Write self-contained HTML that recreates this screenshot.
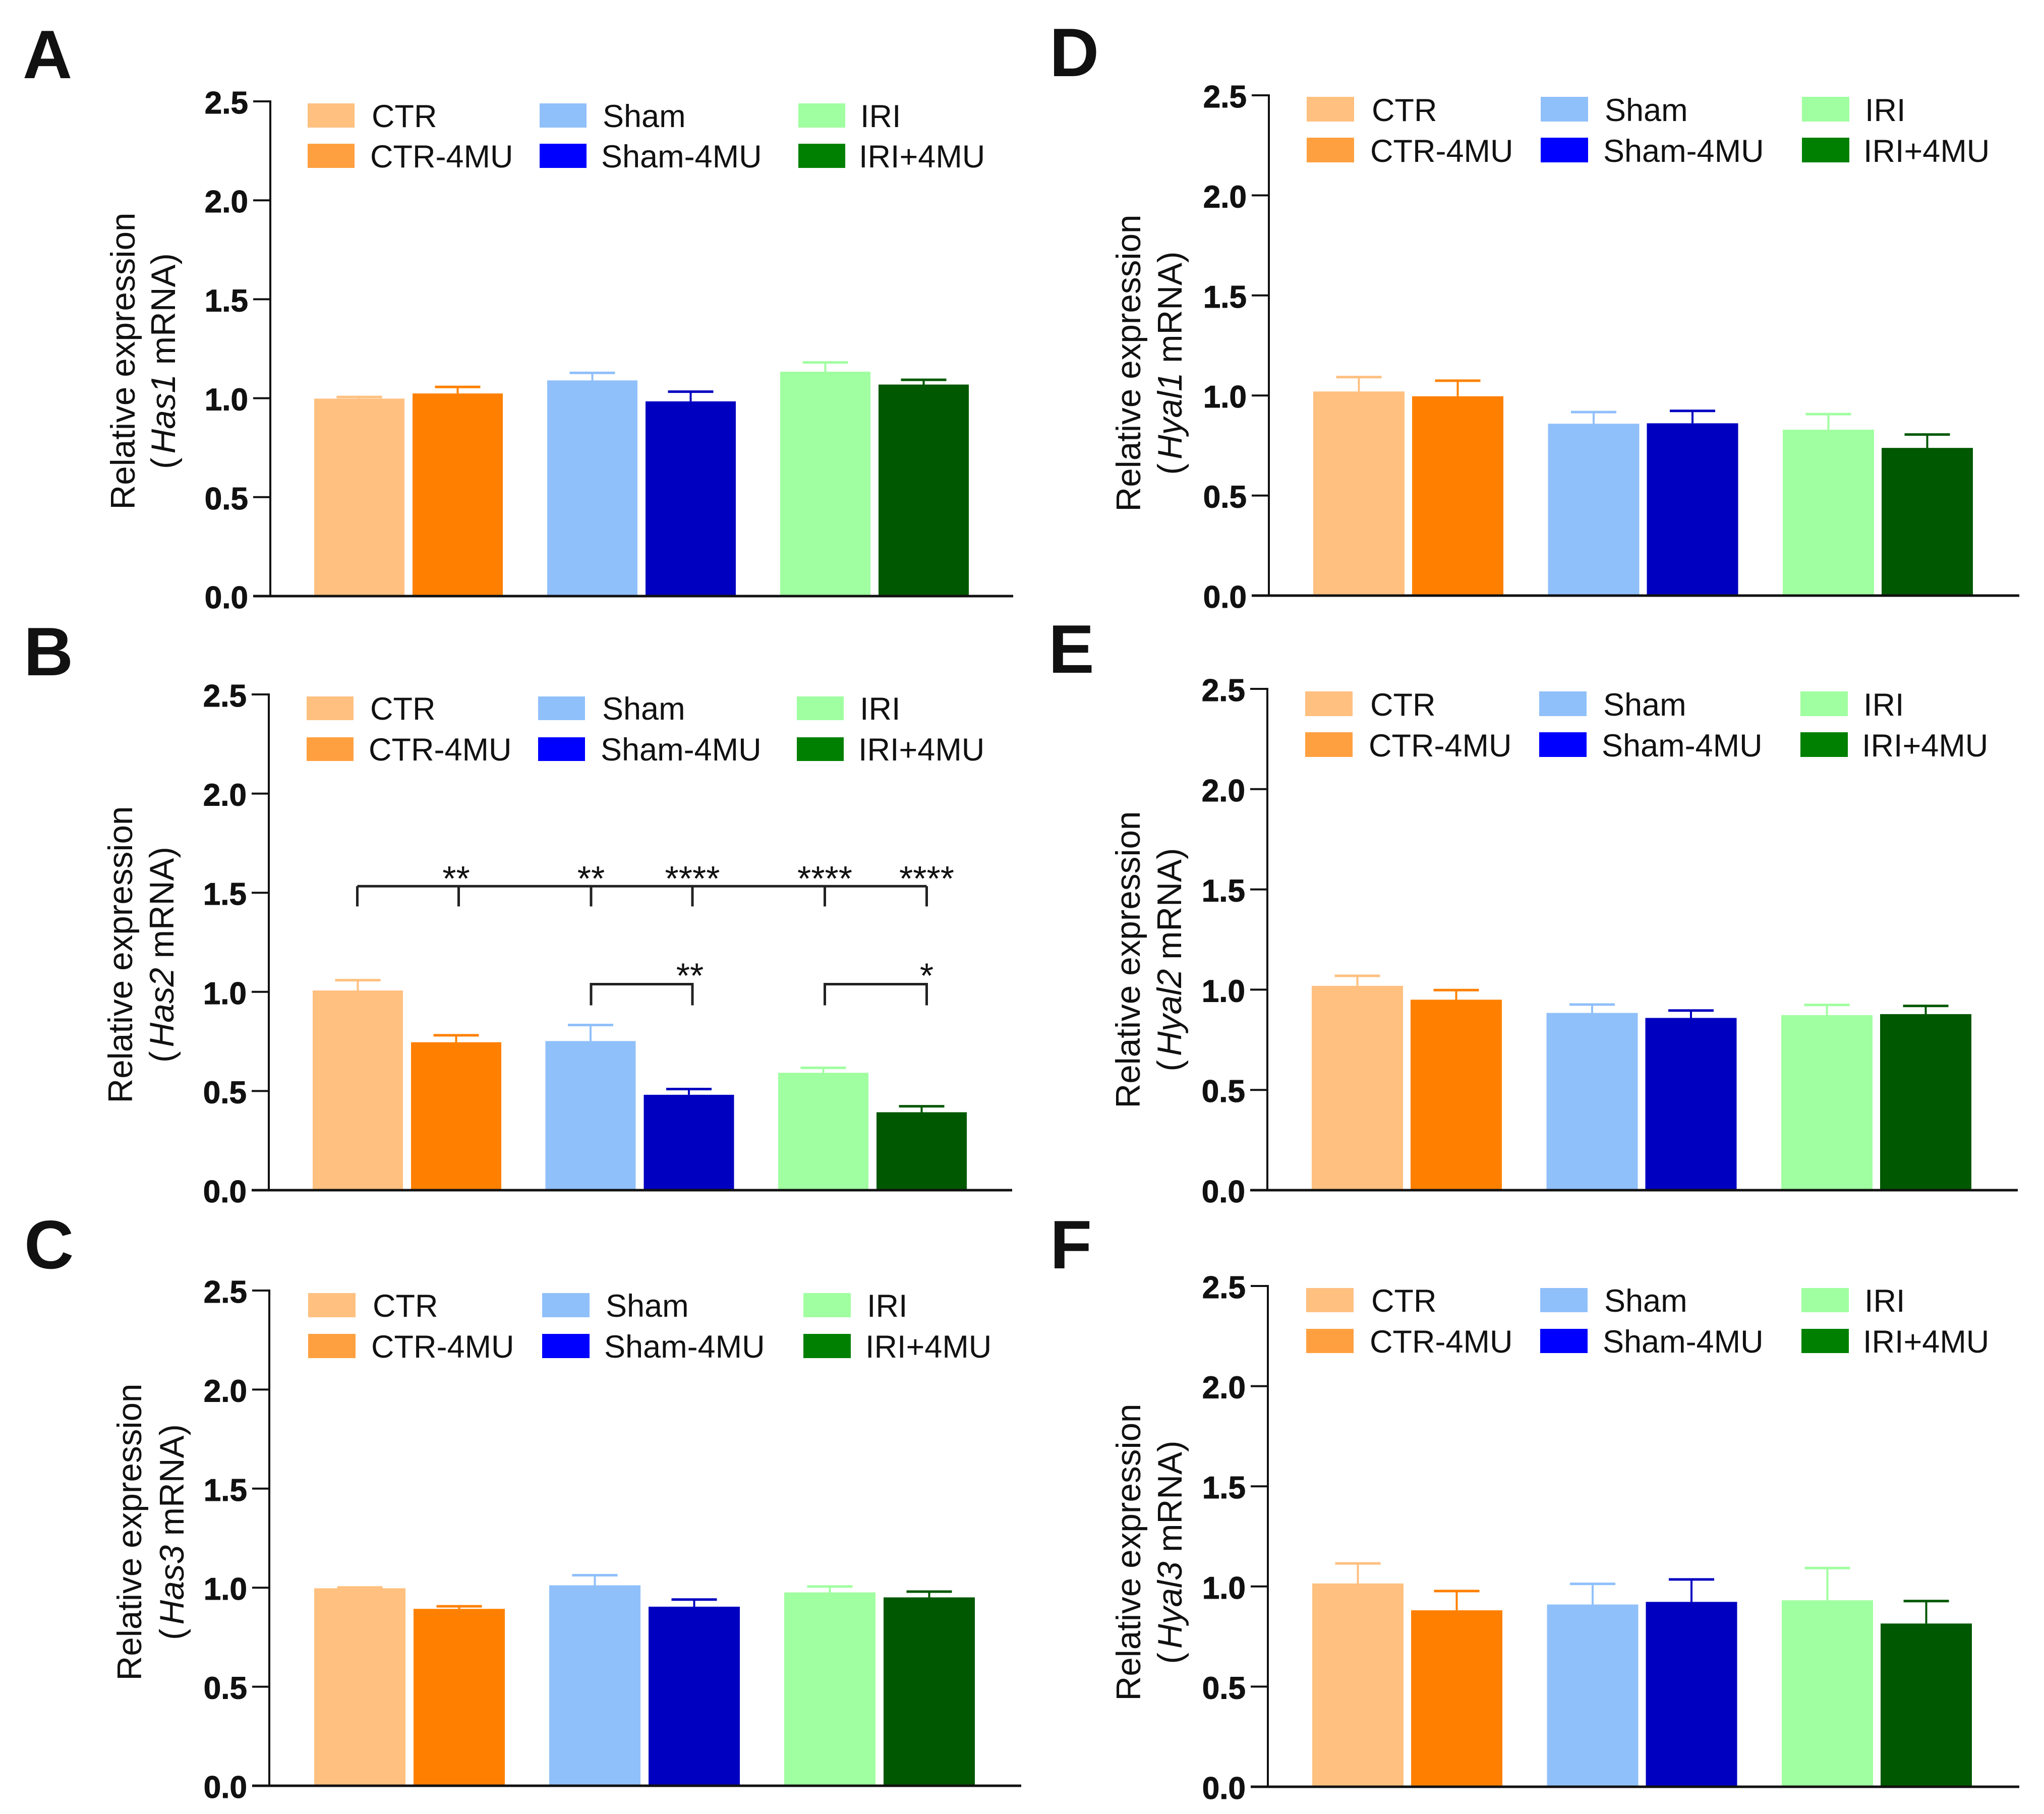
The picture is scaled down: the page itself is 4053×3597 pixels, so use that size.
<!DOCTYPE html>
<html lang="en">
<head>
<meta charset="utf-8">
<title>Relative mRNA expression panels</title>
<style>
html,body{margin:0;padding:0;background:#fff;}
svg{display:block;}
text{font-family:"Liberation Sans",sans-serif;fill:#111;}
</style>
</head>
<body>
<svg id="figure" xmlns="http://www.w3.org/2000/svg" width="4053" height="3597" viewBox="0 0 4053 3597"></svg>
<script>
// ---- chart data ----
const categories = ['CTR', 'CTR-4MU', 'Sham', 'Sham-4MU', 'IRI', 'IRI+4MU'];
const tickValues = [0, 0.5, 1, 1.5, 2, 2.5];
const tickLabels = ['0.0', '0.5', '1.0', '1.5', '2.0', '2.5'];
const has1Means = [0.998, 1.024, 1.09, 0.984, 1.134, 1.069];
const has1Errors = [0.008, 0.033, 0.038, 0.049, 0.047, 0.024];
const has2Means = [1.007, 0.746, 0.752, 0.481, 0.592, 0.393];
const has2Errors = [0.052, 0.035, 0.081, 0.029, 0.025, 0.03];
const has3Means = [0.997, 0.893, 1.012, 0.904, 0.976, 0.951];
const has3Errors = [0.004, 0.013, 0.051, 0.036, 0.03, 0.029];
const hyal1Means = [1.02, 0.996, 0.859, 0.861, 0.829, 0.738];
const hyal1Errors = [0.072, 0.078, 0.058, 0.062, 0.078, 0.067];
const hyal2Means = [1.019, 0.95, 0.884, 0.859, 0.873, 0.878];
const hyal2Errors = [0.05, 0.048, 0.042, 0.037, 0.051, 0.041];
const hyal3Means = [1.015, 0.881, 0.91, 0.923, 0.931, 0.815];
const hyal3Errors = [0.1, 0.096, 0.103, 0.112, 0.161, 0.112];
const topStars = ['**', '**', '****', '****', '****'];
const lowerStars = ['**', '*'];

// ---- styles ----
const barColors = ['#FFC080', '#FF8000', '#90C0FA', '#0000C0', '#A0FFA0', '#005800'];
const swatchColors = ['#FFC080', '#FFA040', '#90C0FA', '#0000FF', '#A0FFA0', '#008000'];

// ---- panel layout ----
const panels = [
  {letter:'A', lx:45, ly:155, gene:'Has1', suffix:' mRNA)', means:has1Means, errors:has1Errors,
   ax:536, top:201, bottom:1182, xEnd:2009, off:87, step:195, group:462, w:179,
   lab1:267, lab2:347, labY:716,
   swX:[610,1070,1583], txX:[737,1195,1706], swY:[205,285], swW:93, swH:48},
  {letter:'B', lx:47, ly:1339, gene:'Has2', suffix:' mRNA)', means:has2Means, errors:has2Errors,
   ax:533, top:1377, bottom:2360, xEnd:2007, off:87, step:195, group:461.5, w:179,
   lab1:262, lab2:344, labY:1893,
   swX:[608,1067,1580], txX:[734,1194,1705], swY:[1381,1462], swW:93, swH:47},
  {letter:'C', lx:48, ly:2515, gene:'Has3', suffix:' mRNA)', means:has3Means, errors:has3Errors,
   ax:534, top:2559, bottom:3541, xEnd:2025, off:89, step:197, group:466, w:181,
   lab1:280, lab2:364, labY:3038,
   swX:[611,1075,1593], txX:[739,1201,1719], swY:[2564,2645], swW:94, swH:48},
  {letter:'D', lx:2081, ly:151, gene:'Hyal1', suffix:' mRNA)', means:hyal1Means, errors:hyal1Errors,
   ax:2516, top:189, bottom:1181, xEnd:4004, off:88, step:196, group:465.5, w:181,
   lab1:2261, lab2:2343, labY:720,
   swX:[2591,3055,3573], txX:[2720,3182,3698], swY:[192,273], swW:94, swH:49},
  {letter:'E', lx:2079, ly:1334, gene:'Hyal2', suffix:' mRNA)', means:hyal2Means, errors:hyal2Errors,
   ax:2513, top:1366, bottom:2360, xEnd:4001, off:88, step:196, group:465.5, w:181,
   lab1:2260, lab2:2342, labY:1903,
   swX:[2588,3052,3570], txX:[2717,3179,3695], swY:[1371,1452], swW:94, swH:49},
  {letter:'F', lx:2082, ly:2515, gene:'Hyal3', suffix:' mRNA)', means:hyal3Means, errors:hyal3Errors,
   ax:2514, top:2550, bottom:3543, xEnd:4004, off:88, step:196, group:465.5, w:181,
   lab1:2261, lab2:2343, labY:3078,
   swX:[2590,3054,3572], txX:[2719,3181,3697], swY:[2554,2635], swW:94, swH:48}
];

const NS = 'http://www.w3.org/2000/svg';
const svg = document.getElementById('figure');

function make(tag, attrs, parent) {
  const node = document.createElementNS(NS, tag);
  for (const k in attrs) node.setAttribute(k, attrs[k]);
  parent.appendChild(node);
  return node;
}

panels.forEach(function (p) {
  const id = p.letter.toLowerCase();
  const yScale = function (v) { return p.bottom - (v / 2.5) * (p.bottom - p.top); };
  const barLeft = function (i) {
    return p.ax + p.off + Math.floor(i / 2) * p.group + (i % 2) * p.step;
  };

  const g = make('g', {}, svg);
  
  

  const letter = make('text', {x: p.lx, y: p.ly, 'font-size': 136, 'font-weight': 'bold', fill: '#000'}, g);
  
  
  letter.textContent = p.letter;

  // bars and error bars
  p.means.forEach(function (m, i) {
    const left = barLeft(i);
    const cx = left + p.w / 2;
    const errTop = yScale(m + p.errors[i]);
    const stem = make('line', {x1: cx, x2: cx, y1: yScale(m), y2: errTop, stroke: barColors[i], 'stroke-width': 4}, g);
    
    
    const cap = make('line', {x1: cx - 45, x2: cx + 45, y1: errTop, y2: errTop, stroke: barColors[i], 'stroke-width': 5}, g);
    
    
    const bar = make('rect', {x: left, y: yScale(m), width: p.w, height: p.bottom - yScale(m), fill: barColors[i]}, g);
    
    
  });

  // axes
  const yAxis = make('line', {x1: p.ax, x2: p.ax, y1: p.top - 2, y2: p.bottom + 2, stroke: '#111', 'stroke-width': 4}, g);
  
  
  const xAxis = make('line', {x1: p.ax - 34, x2: p.xEnd, y1: p.bottom, y2: p.bottom, stroke: '#111', 'stroke-width': 5}, g);
  
  

  tickValues.forEach(function (v, i) {
    const ty = yScale(v);
    const tick = make('line', {x1: p.ax - 34, x2: p.ax, y1: ty, y2: ty, stroke: '#111', 'stroke-width': 4}, g);
    
    
    const label = make('text', {x: p.ax - 44, y: ty + 24, 'font-size': 62, 'font-weight': 'bold', 'text-anchor': 'end', stroke: '#111', 'stroke-width': 1}, g);
    
    
    label.textContent = tickLabels[i];
  });

  // y axis title
  const t1 = make('text', {transform: 'translate(' + p.lab1 + ',' + p.labY + ') rotate(-90)', 'font-size': 67.5, 'text-anchor': 'middle', fill: '#222'}, g);
  
  
  t1.textContent = 'Relative expression';
  const t2 = make('text', {transform: 'translate(' + p.lab2 + ',' + p.labY + ') rotate(-90)', 'font-size': 67.5, 'text-anchor': 'middle', fill: '#222'}, g);
  
  
  const paren = make('tspan', {}, t2);
  paren.textContent = '(';
  const gene = make('tspan', {'font-style': 'italic', dx: 8}, t2);
  gene.textContent = p.gene;
  const rest = make('tspan', {}, t2);
  rest.textContent = p.suffix;

  // legend
  categories.forEach(function (name, i) {
    const col = Math.floor(i / 2);
    const row = i % 2;
    const sw = make('rect', {x: p.swX[col], y: p.swY[row], width: p.swW, height: p.swH, fill: swatchColors[i]}, g);
    
    
    const lt = make('text', {x: p.txX[col] - (row ? 3 : 0), y: p.swY[row] + p.swH - 1, 'font-size': 63, fill: '#1a1a1a'}, g);
    
    
    lt.textContent = name;
  });

  // significance brackets, panel B only
  if (p.letter === 'B') {
    const center = function (i) { return barLeft(i) + p.w / 2; };
    const topShift = [-1, 5, 1, 7, 3, 10];
    const topLine = make('path', {
      d: 'M' + topShift.map(function (s, i) {
        return (center(i) + s) + ' ' + yScale(1.533) + ' V' + yScale(1.431) + ' M';
      }).join('') + (center(0) + topShift[0]) + ' ' + yScale(1.533) + ' H' + (center(5) + topShift[5]),
      fill: 'none', stroke: '#222', 'stroke-width': 5
    }, g);
    
    

    topStars.forEach(function (s, i) {
      const star = make('text', {x: center(i + 1) + topShift[i + 1] - (i === 0 ? 5 : 0), y: yScale(1.533) + 9, 'font-size': 70, 'text-anchor': 'middle', fill: '#111'}, g);
      
      
      star.textContent = s;
    });

    [[2, 3], [4, 5]].forEach(function (pair, k) {
      const xa = center(pair[0]) + topShift[pair[0]];
      const xb = center(pair[1]) + topShift[pair[1]];
      const lower = make('path', {
        d: 'M' + xa + ' ' + yScale(0.932) + ' V' + yScale(1.039) + ' H' + xb + ' V' + yScale(0.932),
        fill: 'none', stroke: '#222', 'stroke-width': 5
      }, g);
      
      
      const star = make('text', {x: xb - (k === 0 ? 5 : 0), y: yScale(1.039) + 7, 'font-size': 70, 'text-anchor': 'middle', fill: '#111'}, g);
      
      
      star.textContent = lowerStars[k];
    });
  }
});
</script>
</body>
</html>
